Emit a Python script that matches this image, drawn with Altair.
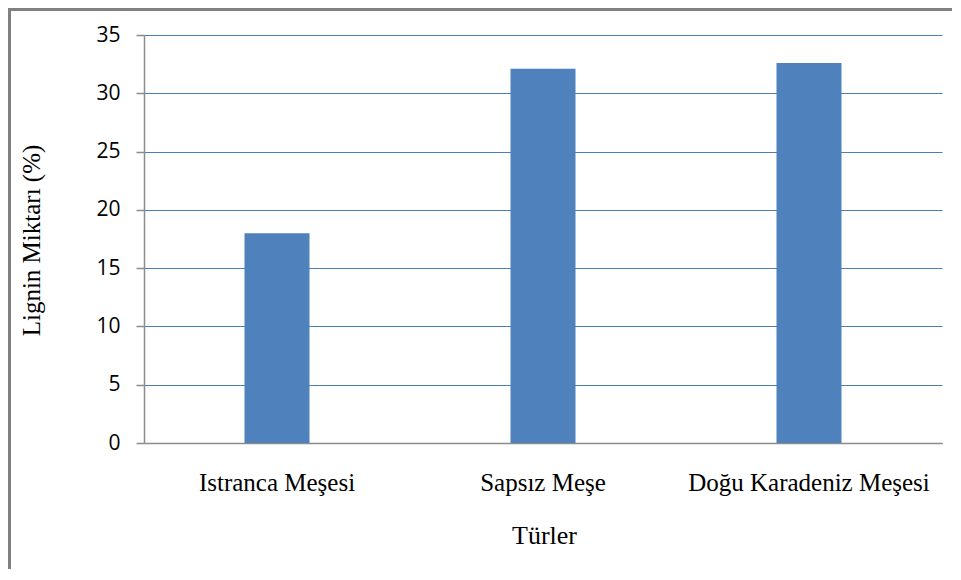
import altair as alt
import pandas as pd

categories = ["Istranca Meşesi", "Sapsız Meşe", "Doğu Karadeniz Meşesi"]
values = [18.0, 32.1, 32.6]
y_ticks = [0, 5, 10, 15, 20, 25, 30, 35]

df = pd.DataFrame({"tur": categories, "lignin": values})

W, H = 798, 408
PAD_L, PAD_T = 136, 27

bars = alt.Chart(df).mark_bar(size=65, color="#4F81BD").encode(
    x=alt.X("tur:N", sort=categories,
            scale=alt.Scale(paddingInner=0, paddingOuter=0),
            axis=alt.Axis(title="Türler", labelAngle=0, ticks=False,
                          domainColor="#8C8C8C", domainWidth=1.5,
                          labelFont="Liberation Serif", labelFontSize=25,
                          labelColor="#000000", labelPadding=27, labelLimit=0,
                          titleFont="Liberation Serif", titleFontSize=26,
                          titleFontWeight="normal", titleColor="#000000",
                          titleX=W / 2 + 1, titleY=92, titleBaseline="middle",
                          grid=False)),
    y=alt.Y("lignin:Q",
            scale=alt.Scale(domain=[0, 35], nice=False),
            axis=alt.Axis(title="Lignin Miktarı (%)", values=y_ticks,
                          domainColor="#8C8C8C", domainWidth=1.5,
                          tickColor="#8C8C8C", tickSize=8, tickWidth=1.5,
                          labelFont="Open Sans", labelFontSize=21,
                          labelColor="#000000", labelPadding=16,
                          gridColor="#4A7EBB", gridWidth=1.2,
                          titleFont="Liberation Serif", titleFontSize=25,
                          titleFontWeight="normal", titleColor="#000000",
                          titleX=-113, titleY=H / 2 + 1,
                          titleAngle=-90, titleBaseline="middle",
                          titleAlign="center")),
)

frame = pd.DataFrame({"a": [0]})
left_edge = alt.Chart(frame).mark_rule(
    color="#808080", strokeWidth=3, clip=False
).encode(x=alt.value(-134.5), y=alt.value(-27), y2=alt.value(H + 200))
top_edge = alt.Chart(frame).mark_rule(
    color="#808080", strokeWidth=3, clip=False
).encode(y=alt.value(-25.5), x=alt.value(-136), x2=alt.value(W + 200))

chart = alt.layer(left_edge, top_edge, bars).properties(
    width=W, height=H,
    padding={"left": PAD_L, "top": PAD_T, "right": 10, "bottom": 126},
    autosize=alt.AutoSizeParams(type="none"),
).configure_view(stroke=None)

chart.save("out.html", embed_options={"renderer": "svg", "actions": False})
